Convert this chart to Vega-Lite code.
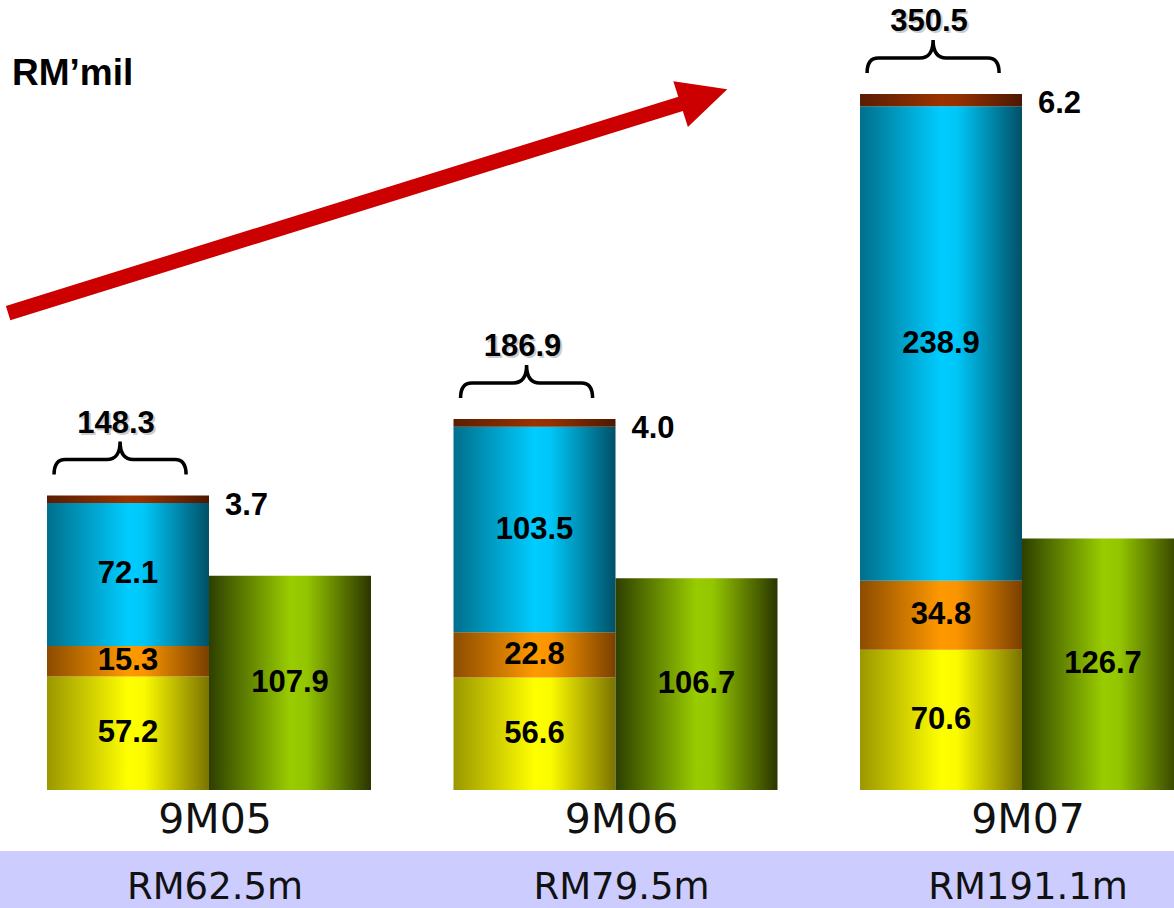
{
  "$schema": "https://vega.github.io/schema/vega-lite/v6.json",
  "width": 1174,
  "height": 908,
  "padding": 0,
  "autosize": {"type": "none"},
  "background": "white",
  "config": {"view": {"stroke": null}, "font": "Liberation Sans"},
  "datasets": {
    "segments": [
      {"period": "9M05", "kind": "A", "part": "s1", "ord": 1, "value": 57.2},
      {"period": "9M05", "kind": "A", "part": "s2", "ord": 2, "value": 15.3},
      {"period": "9M05", "kind": "A", "part": "s3", "ord": 3, "value": 72.1},
      {"period": "9M05", "kind": "A", "part": "s4", "ord": 4, "value": 3.7},
      {"period": "9M05", "kind": "B", "part": "s5", "ord": 1, "value": 107.9},
      {"period": "9M06", "kind": "A", "part": "s1", "ord": 1, "value": 56.6},
      {"period": "9M06", "kind": "A", "part": "s2", "ord": 2, "value": 22.8},
      {"period": "9M06", "kind": "A", "part": "s3", "ord": 3, "value": 103.5},
      {"period": "9M06", "kind": "A", "part": "s4", "ord": 4, "value": 4.0},
      {"period": "9M06", "kind": "B", "part": "s5", "ord": 1, "value": 106.7},
      {"period": "9M07", "kind": "A", "part": "s1", "ord": 1, "value": 70.6},
      {"period": "9M07", "kind": "A", "part": "s2", "ord": 2, "value": 34.8},
      {"period": "9M07", "kind": "A", "part": "s3", "ord": 3, "value": 238.9},
      {"period": "9M07", "kind": "A", "part": "s4", "ord": 4, "value": 6.2},
      {"period": "9M07", "kind": "B", "part": "s5", "ord": 1, "value": 126.7}
    ],
    "periods": [
      {"period": "9M05", "profit": "RM62.5m"},
      {"period": "9M06", "profit": "RM79.5m"},
      {"period": "9M07", "profit": "RM191.1m"}
    ]
  },
  "data": {"name": "segments"},
  "transform": [
    {"stack": "value", "groupby": ["period", "kind"], "sort": [{"field": "ord", "order": "ascending"}], "as": ["y0", "y1"]}
  ],
  "layer": [
    {
      "data": {"values": [{}]},
      "mark": {"type": "rect", "fill": "#ccccff"},
      "encoding": {
        "y": {"datum": -30.7, "type": "quantitative", "scale": {"domain": [-59.42, 397.85], "nice": false, "zero": false}, "axis": null},
        "y2": {"datum": -59.42}
      }
    },
    {
      "transform": [{"filter": "datum.part === 's1'"}],
      "mark": {"type": "bar", "fill": {"gradient": "linear", "x1": 0, "x2": 1, "y1": 0, "y2": 0, "stops": [
        {"offset": 0, "color": "#9a9700"}, {"offset": 0.5, "color": "#ffff00"}, {"offset": 0.6, "color": "#fbfb00"}, {"offset": 1, "color": "#7a7300"}]}},
      "encoding": {
        "x": {"field": "period", "type": "nominal", "scale": {"domain": ["9M05", "9M06", "9M07"], "range": [47, 1184], "paddingInner": 0.203, "paddingOuter": 0}, "axis": null},
        "xOffset": {"field": "kind", "type": "nominal", "scale": {"domain": ["A", "B"], "paddingInner": 0, "paddingOuter": 0}},
        "y": {"field": "y1", "type": "quantitative", "scale": {"domain": [-59.42, 397.85], "nice": false, "zero": false}, "axis": null},
        "y2": {"field": "y0"}
      }
    },
    {
      "transform": [{"filter": "datum.part === 's2'"}],
      "mark": {"type": "bar", "fill": {"gradient": "linear", "x1": 0, "x2": 1, "y1": 0, "y2": 0, "stops": [
        {"offset": 0, "color": "#8c4c00"}, {"offset": 0.5, "color": "#ff9900"}, {"offset": 0.6, "color": "#fa9500"}, {"offset": 1, "color": "#7a3f00"}]}},
      "encoding": {
        "x": {"field": "period", "type": "nominal", "scale": {"domain": ["9M05", "9M06", "9M07"], "range": [47, 1184], "paddingInner": 0.203, "paddingOuter": 0}, "axis": null},
        "xOffset": {"field": "kind", "type": "nominal", "scale": {"domain": ["A", "B"], "paddingInner": 0, "paddingOuter": 0}},
        "y": {"field": "y1", "type": "quantitative", "scale": {"domain": [-59.42, 397.85], "nice": false, "zero": false}, "axis": null},
        "y2": {"field": "y0"}
      }
    },
    {
      "transform": [{"filter": "datum.part === 's3'"}],
      "mark": {"type": "bar", "fill": {"gradient": "linear", "x1": 0, "x2": 1, "y1": 0, "y2": 0, "stops": [
        {"offset": 0, "color": "#006f8c"}, {"offset": 0.5, "color": "#00ccff"}, {"offset": 0.6, "color": "#00c6f7"}, {"offset": 1, "color": "#005066"}]}},
      "encoding": {
        "x": {"field": "period", "type": "nominal", "scale": {"domain": ["9M05", "9M06", "9M07"], "range": [47, 1184], "paddingInner": 0.203, "paddingOuter": 0}, "axis": null},
        "xOffset": {"field": "kind", "type": "nominal", "scale": {"domain": ["A", "B"], "paddingInner": 0, "paddingOuter": 0}},
        "y": {"field": "y1", "type": "quantitative", "scale": {"domain": [-59.42, 397.85], "nice": false, "zero": false}, "axis": null},
        "y2": {"field": "y0"}
      }
    },
    {
      "transform": [{"filter": "datum.part === 's4'"}],
      "mark": {"type": "bar", "fill": {"gradient": "linear", "x1": 0, "x2": 1, "y1": 0, "y2": 0, "stops": [
        {"offset": 0, "color": "#5a1d00"}, {"offset": 0.5, "color": "#993300"}, {"offset": 0.6, "color": "#943100"}, {"offset": 1, "color": "#4d1800"}]}},
      "encoding": {
        "x": {"field": "period", "type": "nominal", "scale": {"domain": ["9M05", "9M06", "9M07"], "range": [47, 1184], "paddingInner": 0.203, "paddingOuter": 0}, "axis": null},
        "xOffset": {"field": "kind", "type": "nominal", "scale": {"domain": ["A", "B"], "paddingInner": 0, "paddingOuter": 0}},
        "y": {"field": "y1", "type": "quantitative", "scale": {"domain": [-59.42, 397.85], "nice": false, "zero": false}, "axis": null},
        "y2": {"field": "y0"}
      }
    },
    {
      "transform": [{"filter": "datum.part === 's5'"}],
      "mark": {"type": "bar", "fill": {"gradient": "linear", "x1": 0, "x2": 1, "y1": 0, "y2": 0, "stops": [
        {"offset": 0, "color": "#2d3f00"}, {"offset": 0.5, "color": "#99cc00"}, {"offset": 0.6, "color": "#94c600"}, {"offset": 1, "color": "#2b3500"}]}},
      "encoding": {
        "x": {"field": "period", "type": "nominal", "scale": {"domain": ["9M05", "9M06", "9M07"], "range": [47, 1184], "paddingInner": 0.203, "paddingOuter": 0}, "axis": null},
        "xOffset": {"field": "kind", "type": "nominal", "scale": {"domain": ["A", "B"], "paddingInner": 0, "paddingOuter": 0}},
        "y": {"field": "y1", "type": "quantitative", "scale": {"domain": [-59.42, 397.85], "nice": false, "zero": false}, "axis": null},
        "y2": {"field": "y0"}
      }
    },
    {
      "transform": [{"filter": "datum.part !== 's4'"}, {"calculate": "(datum.y0 + datum.y1) / 2", "as": "mid"}],
      "mark": {"type": "text", "fontSize": 31, "fontWeight": "bold", "color": "#000000", "align": "center", "baseline": "middle"},
      "encoding": {
        "x": {"field": "period", "type": "nominal", "scale": {"domain": ["9M05", "9M06", "9M07"], "range": [47, 1184], "paddingInner": 0.203, "paddingOuter": 0}, "axis": null},
        "xOffset": {"field": "kind", "type": "nominal", "scale": {"domain": ["A", "B"], "paddingInner": 0, "paddingOuter": 0}},
        "y": {"field": "mid", "type": "quantitative", "scale": {"domain": [-59.42, 397.85], "nice": false, "zero": false}, "axis": null},
        "text": {"field": "value", "type": "quantitative", "format": ".1f"}
      }
    },
    {
      "transform": [{"filter": "datum.part === 's4'"}],
      "mark": {"type": "text", "fontSize": 31, "fontWeight": "bold", "color": "#000000", "align": "left", "baseline": "middle", "dx": 97, "dy": 10},
      "encoding": {
        "x": {"field": "period", "type": "nominal", "scale": {"domain": ["9M05", "9M06", "9M07"], "range": [47, 1184], "paddingInner": 0.203, "paddingOuter": 0}, "axis": null},
        "xOffset": {"field": "kind", "type": "nominal", "scale": {"domain": ["A", "B"], "paddingInner": 0, "paddingOuter": 0}},
        "y": {"field": "y1", "type": "quantitative", "scale": {"domain": [-59.42, 397.85], "nice": false, "zero": false}, "axis": null},
        "text": {"field": "value", "type": "quantitative", "format": ".1f"}
      }
    },
    {
      "transform": [{"filter": "datum.part === 's4'"}],
      "mark": {"type": "point", "shape": "M-1.12,-0.318 Q-1.12,-0.545 -0.95,-0.545 L-0.32,-0.545 Q-0.12,-0.545 -0.12,-0.818 Q-0.12,-0.545 0.08,-0.545 L0.71,-0.545 Q0.88,-0.545 0.88,-0.318", "size": 17424, "filled": false, "fill": null, "stroke": "#000000", "strokeWidth": 3.5, "opacity": 1},
      "encoding": {
        "x": {"field": "period", "type": "nominal", "scale": {"domain": ["9M05", "9M06", "9M07"], "range": [47, 1184], "paddingInner": 0.203, "paddingOuter": 0}, "axis": null},
        "xOffset": {"field": "kind", "type": "nominal", "scale": {"domain": ["A", "B"], "paddingInner": 0, "paddingOuter": 0}},
        "y": {"field": "y1", "type": "quantitative", "scale": {"domain": [-59.42, 397.85], "nice": false, "zero": false}, "axis": null}
      }
    },
    {
      "transform": [{"filter": "datum.part === 's4'"}],
      "mark": {"type": "text", "fontSize": 31, "fontWeight": "bold", "color": "#cccccc", "align": "center", "baseline": "middle", "dx": -10, "dy": -70},
      "encoding": {
        "x": {"field": "period", "type": "nominal", "scale": {"domain": ["9M05", "9M06", "9M07"], "range": [47, 1184], "paddingInner": 0.203, "paddingOuter": 0}, "axis": null},
        "xOffset": {"field": "kind", "type": "nominal", "scale": {"domain": ["A", "B"], "paddingInner": 0, "paddingOuter": 0}},
        "y": {"field": "y1", "type": "quantitative", "scale": {"domain": [-59.42, 397.85], "nice": false, "zero": false}, "axis": null},
        "text": {"field": "y1", "type": "quantitative", "format": ".1f"}
      }
    },
    {
      "transform": [{"filter": "datum.part === 's4'"}],
      "mark": {"type": "text", "fontSize": 31, "fontWeight": "bold", "color": "#000000", "align": "center", "baseline": "middle", "dx": -12, "dy": -72},
      "encoding": {
        "x": {"field": "period", "type": "nominal", "scale": {"domain": ["9M05", "9M06", "9M07"], "range": [47, 1184], "paddingInner": 0.203, "paddingOuter": 0}, "axis": null},
        "xOffset": {"field": "kind", "type": "nominal", "scale": {"domain": ["A", "B"], "paddingInner": 0, "paddingOuter": 0}},
        "y": {"field": "y1", "type": "quantitative", "scale": {"domain": [-59.42, 397.85], "nice": false, "zero": false}, "axis": null},
        "text": {"field": "y1", "type": "quantitative", "format": ".1f"}
      }
    },
    {
      "data": {"name": "periods"},
      "mark": {"type": "text", "font": "DejaVu Sans", "fontSize": 41, "color": "#111111", "align": "center", "baseline": "middle", "dx": 6},
      "encoding": {
        "x": {"field": "period", "type": "nominal", "scale": {"domain": ["9M05", "9M06", "9M07"], "range": [47, 1184], "paddingInner": 0.203, "paddingOuter": 0}, "axis": null},
        "y": {"datum": -15.6, "type": "quantitative", "scale": {"domain": [-59.42, 397.85], "nice": false, "zero": false}, "axis": null},
        "text": {"field": "period", "type": "nominal"}
      }
    },
    {
      "data": {"name": "periods"},
      "mark": {"type": "text", "font": "DejaVu Sans", "fontSize": 37, "color": "#111111", "align": "center", "baseline": "middle", "dx": 6},
      "encoding": {
        "x": {"field": "period", "type": "nominal", "scale": {"domain": ["9M05", "9M06", "9M07"], "range": [47, 1184], "paddingInner": 0.203, "paddingOuter": 0}, "axis": null},
        "y": {"datum": -49.4, "type": "quantitative", "scale": {"domain": [-59.42, 397.85], "nice": false, "zero": false}, "axis": null},
        "text": {"field": "profit", "type": "nominal"}
      }
    },
    {
      "data": {"values": [{}]},
      "mark": {"type": "rule", "color": "#cc0000", "strokeWidth": 15, "strokeCap": "butt"},
      "encoding": {
        "x": {"datum": "9M05", "type": "nominal", "bandPosition": -0.12, "scale": {"domain": ["9M05", "9M06", "9M07"], "range": [47, 1184], "paddingInner": 0.203, "paddingOuter": 0}, "axis": null},
        "x2": {"datum": "9M06", "bandPosition": 0.773},
        "y": {"datum": 240.2, "type": "quantitative", "scale": {"domain": [-59.42, 397.85], "nice": false, "zero": false}, "axis": null},
        "y2": {"datum": 349.2}
      }
    },
    {
      "data": {"values": [{}]},
      "mark": {"type": "point", "shape": "M1,0 L-1,-0.98 L-1,0.98 Z", "size": 2401, "angle": 342.3, "filled": true, "fill": "#cc0000", "stroke": null, "opacity": 1},
      "encoding": {
        "x": {"datum": "9M06", "type": "nominal", "bandPosition": 0.773, "scale": {"domain": ["9M05", "9M06", "9M07"], "range": [47, 1184], "paddingInner": 0.203, "paddingOuter": 0}, "axis": null},
        "y": {"datum": 349.2, "type": "quantitative", "scale": {"domain": [-59.42, 397.85], "nice": false, "zero": false}, "axis": null}
      }
    },
    {
      "data": {"values": [{}]},
      "mark": {"type": "text", "text": "RM’mil", "fontSize": 37, "fontWeight": "bold", "color": "#000000", "align": "left", "baseline": "middle"},
      "encoding": {
        "x": {"datum": "9M05", "type": "nominal", "bandPosition": -0.108, "scale": {"domain": ["9M05", "9M06", "9M07"], "range": [47, 1184], "paddingInner": 0.203, "paddingOuter": 0}, "axis": null},
        "y": {"datum": 360.6, "type": "quantitative", "scale": {"domain": [-59.42, 397.85], "nice": false, "zero": false}, "axis": null}
      }
    }
  ]
}
